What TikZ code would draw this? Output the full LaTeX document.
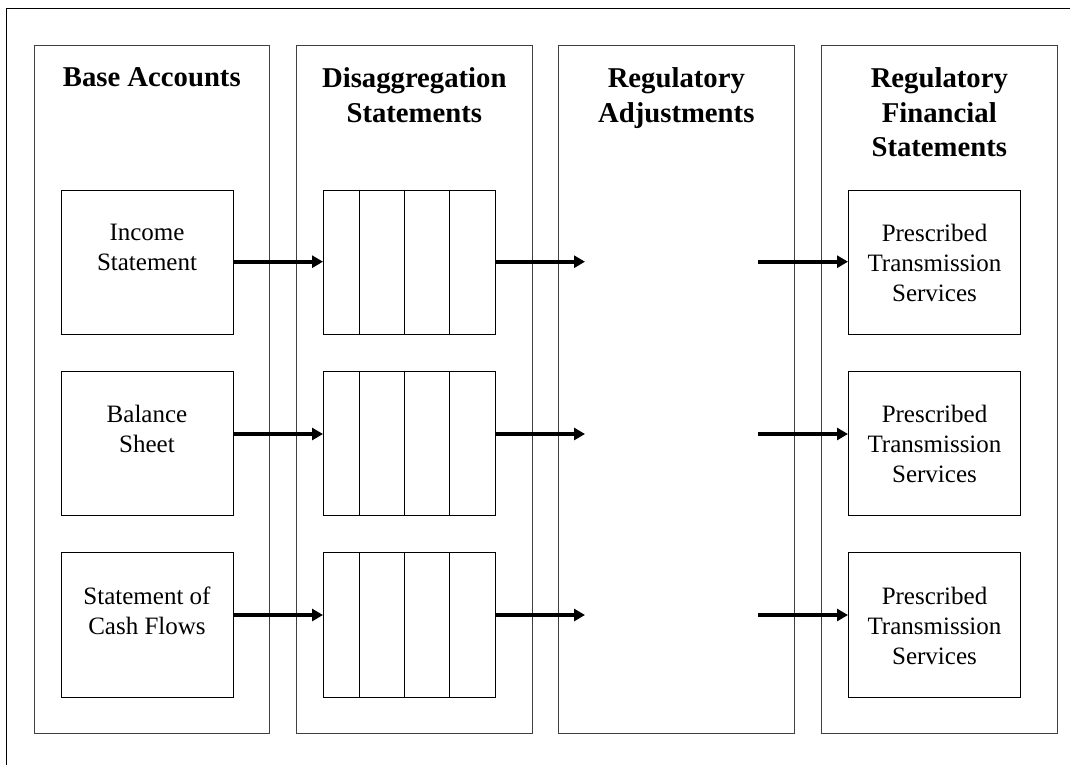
\documentclass[tikz,border=0pt]{standalone}
\usepackage{fontspec}
\setmainfont{Liberation Serif}
\usetikzlibrary{arrows.meta}
\begin{document}
\begin{tikzpicture}[x=1pt,y=-1pt,
 colbox/.style={draw=black!75,line width=1.1pt,inner sep=0,anchor=north west,minimum width=235.5pt,minimum height=688pt},
 ibox/.style={draw=black,line width=1pt,inner sep=0,anchor=north west,minimum width=172pt,minimum height=144.5pt},
 divline/.style={draw=black,line width=1pt},
 title/.style={font=\fontsize{28.7}{34.5}\selectfont\bfseries,align=center,anchor=north,inner sep=0},
 body/.style={font=\fontsize{25}{30}\selectfont,align=center,anchor=north,inner sep=0},
 arr/.style={line width=4pt,-{Triangle[length=11pt,width=12pt]}},
 frame/.style={line width=1.3pt,draw=black}
]
\useasboundingbox (0,0) rectangle (1070,764);
\clip (0,0) rectangle (1070,764);
\coordinate (fa) at (6.5,780);
\coordinate (fb) at (6.5,8.5);
\coordinate (fc) at (1090,8.5);
\draw[frame] (fa) -- (fb) -- (fc);

% columns
\node[colbox] (c1) at (33.5,44.5) {};
\node[colbox] (c2) at (296,44.5) {};
\node[colbox] (c3) at (558,44.5) {};
\node[colbox] (c4) at (821,44.5) {};

% titles
\node[title] (h1) at ([yshift=-23pt]c1.north) {Base Accounts};
\node[title] (h2) at ([yshift=-23pt]c2.north) {Disaggregation\\Statements};
\node[title] (h3) at ([yshift=-23pt]c3.north) {Regulatory\\Adjustments};
\node[title] (h4) at ([yshift=-23pt]c4.north) {Regulatory\\Financial\\Statements};

% base account boxes
\node[ibox] (a1) at (60.5,189.5) {};
\node[ibox] (a2) at (60.5,370.7) {};
\node[ibox] (a3) at (60.5,552) {};
\node[body] (ta1) at ([yshift=-34.5pt]a1.north) {Income\\Statement};
\node[body] (ta2) at ([yshift=-34.5pt]a2.north) {Balance\\Sheet};
\node[body] (ta3) at ([yshift=-34.5pt]a3.north) {Statement of\\Cash Flows};

% disaggregation boxes
\node[ibox] (b1) at (323,189.5) {};
\node[ibox] (b2) at (323,370.7) {};
\node[ibox] (b3) at (323,552) {};
\foreach \b in {b1,b2,b3}{
  \foreach \d in {36.3,81.5,126.7}{
    \draw[divline] ([xshift=\d pt]\b.north west) -- ([xshift=\d pt]\b.south west);
  }
}

% regulatory financial statement boxes
\node[ibox] (d1) at (848,189.5) {};
\node[ibox] (d2) at (848,370.7) {};
\node[ibox] (d3) at (848,552) {};
\node[body] (td1) at ([yshift=-34.5pt]d1.north) {Prescribed\\Transmission\\Services};
\node[body] (td2) at ([yshift=-34.5pt]d2.north) {Prescribed\\Transmission\\Services};
\node[body] (td3) at ([yshift=-34.5pt]d3.north) {Prescribed\\Transmission\\Services};

% arrow rows
\coordinate (m1) at (585,261.7);
\coordinate (m2) at (585,434);
\coordinate (m3) at (585,615);
\coordinate (n1) at (758,261.7);
\coordinate (n2) at (758,434);
\coordinate (n3) at (758,615);

\foreach \i in {1,2,3}{
  \draw[arr] (a\i.east |- m\i) -- (b\i.west |- m\i);
  \draw[arr] (b\i.east |- m\i) -- (m\i);
  \draw[arr] (n\i) -- (d\i.west |- n\i);
}
\end{tikzpicture}
\end{document}
